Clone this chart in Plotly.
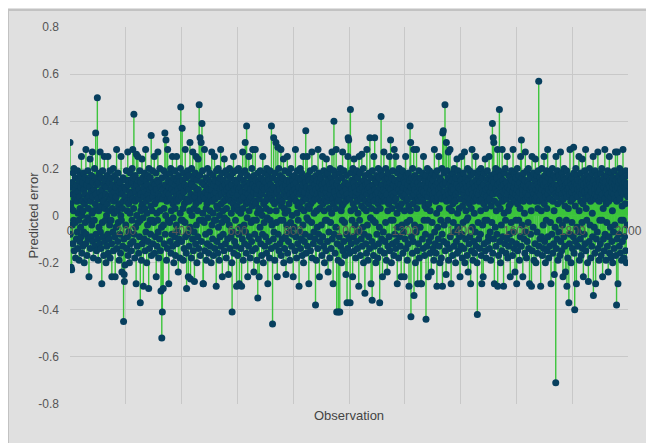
import plotly.graph_objects as go

# Predicted error per observation, in hundredths (read/estimated from the chart)
err_0000 = [31, -8, 12, 5, -22, 3, -23, 14, -4, 9, -12, 18, 2, -2, 20, -15, 7, 11, -3, 16,
            -18, 7, 9, -10, 13, 6, -7, 19, -14, 1, 10, -2, 15, -19, 8, -11, 3, 17, -5, 12,
            -9, 25, 0, -16, 6, 14, -13, 2, 18, -7, 11, -20, 5, 9, -3, 16, -12, 28, -8, 7,
            13, -17, 7, -1, 19, -10, 3, 15, -26, 8, -2, 12, 24, -14, 6, 10, -9, 17, -4, 1,
            27, -11, 8, 14, -18, 2, 11, -2, 20, -13, 5, 16, 35, -8, 9, -15, 13, 3, 50, -10]
err_0100 = [7, -19, 14, 2, -5, 18, -12, 10, 27, -7, 4, -14, 16, 8, -29, 11, -3, 19, -9, 6,
            13, -17, 6, 25, -11, 3, 15, -2, 9, -20, 12, 0, -13, 17, 5, -8, 25, -16, 8, 2,
            -10, 14, -4, 19, -18, 7, 11, -2, 16, -12, -26, 9, 3, 13, -7, 20, -15, 6, 1, 10,
            -9, 17, -26, 7, 12, -5, 8, 28, -14, 15, 2, -11, 18, -3, 4, 13, -19, 10, -8, 5,
            14, -16, 0, 25, -2, 11, -24, 9, 3, -13, 16, 6, -45, -10, -25, -28, 12, -21, 8, 15]
err_0200 = [-4, 11, 19, -14, 6, 2, -9, 27, -17, 13, 5, -7, 15, -20, 10, 1, 18, -12, 7, 9,
            -15, 14, -2, 20, 7, 28, -11, 16, 3, 43, -8, 12, -18, 6, 17, -5, 10, -29, 26, 0,
            13, -13, 8, 25, -3, 15, -16, 7, 11, -9, 19, -2, -37, 9, 2, 14, -19, 4, 24, -12,
            5, 16, -1, -30, 12, 8, -10, 18, 3, -15, 10, 28, -7, 6, 15, -20, 1, 13, -4, 17,
            -11, 9, -31, 20, 7, -14, 11, -2, 16, -8, 4, 34, -17, 12, 2, -2, 19, -12, 8, 14]
err_0300 = [-3, 10, 25, -16, 5, 13, -9, 6, 18, -26, 11, 1, -13, 15, -2, 27, -7, 9, -18, 7,
            14, -10, 20, 2, -15, 8, -32, 12, -5, -52, 16, -41, 7, 11, -31, -4, 19, 3, -12, 9,
            35, -8, 13, 0, 32, 17, -19, 6, 10, -14, 28, 7, -2, 15, -29, 9, 12, -3, 18, -11,
            7, 20, -16, 2, 14, -8, 11, 25, -13, 5, -1, 16, -20, 10, 6, -9, 19, 3, -17, 13,
            8, -4, 25, -12, 6, 15, -7, 11, -24, 17, 7, -10, 14, 9, -18, 1, 20, 46, -2, 12]
err_0400 = [-11, 8, 37, -2, 15, 3, -19, 18, 10, -14, 5, 13, -3, 28, -9, 7, 16, -16, -31, 6,
            12, -8, 19, 7, -26, 11, 6, -13, 17, 2, 31, -5, -27, 9, 14, -18, 20, 0, 13, -10,
            27, 7, -15, 16, 3, -7, -28, 12, 8, 18, -12, 5, 25, -4, 10, -20, 15, 2, -9, 24,
            11, -14, 6, 47, -2, 17, 33, -17, 9, 7, 31, -11, 14, 39, -2, 19, 1, -29, -29, 8,
            13, -3, 28, -15, 7, 10, -8, 16, 3, -19, 12, 5, -12, 20, -1, 9, 15, -16, 6, 11]
err_0500 = [-7, 18, 2, -13, 14, 8, -20, 11, 27, -4, 6, -10, 17, 1, -17, 13, 9, -2, 25, -14,
            7, 15, -2, 10, -30, 19, 4, -11, 12, 3, -16, 20, -5, 8, 14, -19, 0, 16, -9, 11,
            28, -13, 5, 9, -3, 18, -26, 12, 2, -8, 15, 6, -15, 24, -1, 10, 13, -12, 7, 19,
            -18, 3, 11, -2, 17, -10, 8, 14, -25, 7, 12, -4, 20, -14, 9, 6, 16, -9, 1, 13,
            -20, -41, 10, 18, -7, 5, 25, -16, 3, 11, -11, 15, 7, -2, 19, -13, 8, -30, 12, 4]
err_0600 = [14, -17, 9, 2, 20, -8, 11, -29, 6, 16, -5, 12, 1, -14, 18, -30, 7, 10, -10, 27,
            3, -19, 15, 8, -4, 13, -12, 19, 31, -7, 10, 5, -16, 38, 12, -1, 17, -26, 6, 9,
            -13, 25, 2, -9, 14, 7, -18, 11, 16, -3, 8, -11, 20, 4, -15, 28, 13, -2, 10, -24,
            17, 6, -8, 12, 28, -14, 5, 15, -2, 9, -19, 11, 1, -35, 18, -10, 3, 14, -26, 7,
            13, -5, 19, 2, -12, 16, 9, -17, 10, 0, -8, 25, 12, -20, 5, 15, -3, 11, -13, 18]
err_0700 = [6, -9, 14, 3, -16, 20, 8, -1, 12, -29, 17, 7, -11, 10, 15, -18, 2, 19, -2, 9,
            13, -14, 38, 7, -4, 11, -46, 16, 6, -10, 33, -7, 12, 5, -19, 18, 9, -13, 31, 2,
            -3, 15, 10, -26, 6, 29, -8, 13, 20, -15, 7, 11, -12, 17, 8, -2, 28, -17, 4, 14,
            -10, 6, 16, -2, 12, 24, -20, 9, 3, -14, 19, 1, -9, 13, -25, 10, 15, -4, 8, 25,
            -16, 2, 11, -11, 18, 5, -7, 14, -19, 9, 12, -3, 20, 7, -13, 16, 0, -8, 10, 15]
err_0800 = [-26, 8, 13, -5, 17, 7, -15, 11, 28, -9, 6, 14, -18, 1, 10, 19, -12, 4, -2, 16,
            12, -30, 5, 9, -7, 20, -14, 15, 3, -10, 18, 11, -17, 6, 13, -4, 25, -20, 8, 2,
            -11, 16, 10, -8, 14, 36, -16, 7, 12, -1, 25, -13, 4, 17, -2, 9, -29, 15, 3, 11,
            -9, 19, -15, 5, 12, 8, -3, 27, -18, 14, 6, 10, -12, 16, -7, 1, 20, -10, 13, 7,
            -38, 11, 17, -19, 2, 15, -5, 9, -14, 28, 7, -8, 12, 18, -26, 3, 14, -11, 10, 6]
err_0900 = [16, -4, 9, -17, 13, 25, -9, 5, 11, -13, 19, 2, -20, 14, 7, -2, 17, -15, 10, 24,
            -2, 12, 6, -11, 18, -24, 8, 15, -7, 3, 13, -18, 20, 9, -3, 11, -14, 16, 1, 27,
            -10, 7, 14, -29, 5, 19, 40, -8, 12, 10, -16, 17, 3, -5, 28, 8, -41, 13, -12, 6,
            15, -19, -41, 11, 7, -9, 18, -41, 9, 20, -13, 12, 2, -20, 16, 4, -2, 27, -15, 10,
            5, -11, 19, 13, -3, 8, -17, 14, 6, -25, 11, 17, -8, -37, 9, -14, 25, 33, 7, 32]
err_1000 = [-10, 13, -16, 7, -37, 45, 18, 2, -12, 11, 15, -2, 9, -26, 20, 5, -9, 14, 24, -15,
            3, 12, -4, 17, -18, 8, 10, -11, 19, 6, -14, 16, 1, -7, 13, -30, 25, 9, -2, 11,
            18, -17, 7, 14, -10, 4, 26, -13, 12, -5, 8, 20, -20, 3, 15, -8, 10, -33, 17, 6,
            -12, 13, 2, -16, 28, 9, -4, 14, -19, 11, 5, -9, 18, 12, -14, 33, 7, -1, 16, -29,
            10, 3, -11, -36, 19, 8, -2, 13, -17, 25, 6, -13, 33, 11, -3, 15, -20, 9, 2, 17]
err_1100 = [-8, 14, 10, -18, 5, 20, -12, 7, 16, -5, -37, 12, 3, -15, 19, 42, 9, -10, 13, 6,
            -26, 17, 8, -7, 11, 27, -16, 7, 15, -11, 10, -3, 20, 6, -19, 13, 9, -24, 16, 2,
            -13, 18, 5, -9, 12, 25, -15, 7, 14, 32, -2, 11, -20, 16, 3, 9, -12, 19, -2, 13,
            8, -17, 28, 6, -8, 15, 10, -14, 25, 7, -11, 12, 1, -29, 18, 4, -5, 14, -18, 11,
            20, -9, 3, 16, -13, 9, 13, -26, 5, 17, -4, 10, 19, -16, 8, 12, -7, 15, -26, 2]
err_1200 = [14, -10, 9, 25, -14, 6, 17, -3, 11, -19, 7, 13, -12, 18, 4, -30, 10, 15, -2, 38,
            2, 31, -43, 12, -9, 16, 8, -16, 20, 5, -11, 13, 28, -34, 9, -4, 17, 11, -20, 6,
            15, -7, 28, 3, -15, 10, -29, 14, 7, -12, 19, 6, -18, 12, 9, -5, 16, -29, 8, 13,
            -29, 11, 7, -10, 18, 6, -14, 25, 10, -2, 13, -17, 4, 15, -8, 9, -44, 17, 3, -13,
            12, 20, -2, 8, -26, 14, 5, -11, 19, 10, -16, 2, 16, -9, 11, -24, 13, 7, -3, 18]
err_1300 = [9, -14, 15, 7, -19, 12, 28, -7, 10, -12, 17, 6, -16, 13, 1, -30, 19, 8, -5, 14,
            -10, 11, 25, -13, 3, 16, -20, 9, 12, -2, 15, -18, 7, 20, -8, -30, 35, 13, 36, -11,
            18, -4, 10, 7, 47, -15, 14, 8, -25, 31, 6, -12, 19, 11, -2, 16, 27, -19, 9, 3,
            -14, 13, 28, -9, 7, 17, -29, 10, 2, 15, 12, -17, 5, 18, -3, 11, -13, 20, 8, -7,
            14, 6, -20, 16, 9, -11, 13, 24, -16, 1, -5, 19, 10, -15, 12, 3, -9, 17, -26, 11]
err_1400 = [7, -13, 15, 25, -8, 10, -18, 4, 13, -3, 18, 9, -14, 11, 27, -20, 6, 14, -10, 2,
            16, -2, 12, -17, 8, 20, -1, -24, 15, 10, -12, 5, 19, -9, 13, 7, -29, 17, 3, -15,
            11, 28, -5, 9, -19, 14, 6, -11, 18, 1, -16, 12, 8, -7, 25, 15, -13, 10, 7, -20,
            -42, 13, 17, -3, 9, -10, 19, 6, -14, 11, 14, -8, 2, 20, -17, 12, -29, 7, 16, -4,
            10, -26, 13, 5, -12, 18, 9, -2, 24, -15, 3, 11, -18, 15, 8, -2, 19, -11, 12, 6]
err_1500 = [-9, 16, 25, -14, 7, 13, -7, 10, -19, 17, 4, 12, -3, 15, 39, -16, 9, 33, -10, 31,
            14, -29, 6, 18, -5, 11, 20, -13, 2, 16, -8, 10, 28, -30, 13, 5, -17, 19, 9, 45,
            -11, 14, 3, -20, 17, 8, -4, 12, -15, 28, 6, -9, 15, 10, -30, 13, 1, 18, -12, 7,
            20, -2, 11, -16, 14, 7, -10, 25, 9, -18, 12, 2, -13, 17, 4, -8, 16, 11, -26, 5,
            13, -3, 19, -11, 8, 15, -17, 10, 28, -7, 7, 12, -14, 18, 6, -24, 14, 9, -2, 16]
err_1600 = [-12, -29, 11, 20, 5, -15, 13, 8, -2, 17, 10, -19, 14, 3, -9, 25, 7, -13, 32, 12,
            -4, 16, 9, -26, 11, 6, 18, -10, 13, 1, -16, 15, 27, -7, 10, 7, -18, 12, 19, -11,
            8, 14, -3, 20, -14, 9, 13, -29, 6, 17, 11, -8, 16, 2, -30, 12, 25, -15, 7, 10,
            -5, 18, 13, -19, 9, 7, 15, -12, 24, 6, -20, 11, 8, 17, -7, 13, -16, 3, 19, 10,
            57, -13, 12, 6, -10, 16, 9, -30, 14, 2, -9, 20, 11, -17, 15, 7, -4, 13, -14, 25]
err_1700 = [5, -11, 17, 10, -20, 14, 8, -2, 19, 3, -15, 12, 28, -9, 9, 16, -18, 11, 7, -13,
            18, 7, -3, 14, -29, 10, 15, -8, 12, 20, -16, 6, 11, -12, 17, 2, -25, 13, 9, -5,
            16, -71, 25, -14, 8, 12, -10, 19, 5, -19, 13, 10, -7, 17, -2, 11, -17, 15, 27, -11,
            6, 14, -15, 9, 18, -4, 12, -26, 7, 16, -9, 20, 11, -13, 4, 15, -24, 10, 13, -2,
            19, -30, 8, 14, -18, 11, 3, 17, -37, 12, -12, 9, 28, -8, 15, 6, -20, 13, 10, -3]
err_1800 = [16, -14, 7, 12, -9, 29, 18, -16, 11, -40, 14, 4, -11, 20, 9, -29, 13, -5, 17, 8,
            -13, 11, 15, -7, 25, 2, -19, 12, 10, -10, 18, 6, -17, 14, 9, -3, 24, -14, 11, 5,
            -26, 13, 16, -8, 10, 19, -12, 7, 28, -15, 3, 14, -2, 12, 17, -20, 9, 11, -28, 15,
            8, -11, 20, 13, -4, 16, 6, -18, 12, 10, -13, 18, 1, -9, 14, 25, -34, 7, 15, -5,
            11, -16, 19, 9, -29, 13, 7, -10, 17, 8, -7, 12, 27, -14, 10, 15, -19, 6, 14, -2]
err_1900 = [11, -12, 18, 8, -17, 13, 20, -2, 9, -26, 15, 3, -10, 16, 12, -15, 7, 28, -8, 14,
            10, -19, 5, 17, -3, 11, -13, 19, 9, -24, 13, 6, -9, 25, -16, 12, 15, -5, 8, -18,
            18, 10, -11, 14, 2, -20, 16, 12, -7, 9, -14, 19, 7, -4, 13, 27, -17, 11, 15, -38,
            6, -10, 27, 12, -29, 9, 17, -8, 14, -13, 20, 7, -16, 11, 15, -2, 18, -19, 10, 4,
            -11, 13, 28, -2, 9, 16, -18, 12, -9, 14, 5, -15, 19, 11, -20, 10, 13, -4, 17, 8]

blocks = [err_0000, err_0100, err_0200, err_0300, err_0400, err_0500, err_0600,
          err_0700, err_0800, err_0900, err_1000, err_1100, err_1200, err_1300,
          err_1400, err_1500, err_1600, err_1700, err_1800, err_1900]
pred_error = [v / 100.0 for b in blocks for v in b]
observation = list(range(len(pred_error)))

x_ticks = [0, 200, 400, 600, 800, 1000, 1200, 1400, 1600, 1800, 2000]
y_ticks = [-0.8, -0.6, -0.4, -0.2, 0, 0.2, 0.4, 0.6, 0.8]
y_labels = ["-0.8", "-0.6", "-0.4", "-0.2", "0", "0.2", "0.4", "0.6", "0.8"]

# stems from 0 to each value
stem_x, stem_y = [], []
for xi, yi in zip(observation, pred_error):
    stem_x += [xi, xi, None]
    stem_y += [0, yi, None]

fig = go.Figure()
fig.add_trace(go.Scatter(x=stem_x, y=stem_y, mode="lines",
                         line=dict(color="#3cc43c", width=1.4),
                         hoverinfo="skip", showlegend=False))
fig.add_trace(go.Scatter(x=observation, y=pred_error, mode="markers",
                         marker=dict(color="#073f5e", size=7, line=dict(width=0)),
                         showlegend=False))

font = "Liberation Sans, Arial, sans-serif"
# the page body has an 8 px margin; figure coordinates below are relative to it
W, H = 646, 435
L, T = 62, 17
pw, ph = 558, 379
R, B = W - L - pw, H - T - ph

def px_x(p):
    return (p - L) / pw

def px_y(p):
    return (H - B - p) / ph

fig.update_layout(
    width=W, height=H,
    margin=dict(l=L, r=R, t=T, b=B, pad=0),
    paper_bgcolor="#e0e0e0",
    plot_bgcolor="rgba(0,0,0,0)",
    font=dict(family=font, size=12, color="#555555"),
    showlegend=False,
    shapes=[dict(type="rect", xref="paper", yref="paper", layer="below",
                 x0=px_x(0), x1=px_x(W + 5), y0=px_y(H + 5), y1=px_y(0),
                 fillcolor="rgba(0,0,0,0)", line=dict(color="#c2c2c2", width=2))],
    annotations=[
        dict(text="Observation", xref="paper", yref="paper", x=0.5, y=px_y(408),
             xanchor="center", yanchor="middle", showarrow=False,
             font=dict(family=font, size=13, color="#444444")),
        dict(text="Predicted error", xref="paper", yref="paper", x=px_x(25), y=0.5,
             xanchor="center", yanchor="middle", textangle=-90, showarrow=False,
             font=dict(family=font, size=13, color="#444444")),
    ],
)
fig.update_xaxes(range=[0, 2000], tickmode="array", tickvals=x_ticks,
                 ticktext=[str(t) for t in x_ticks],
                 anchor="free", position=0.5,
                 showgrid=True, gridcolor="#c8c8c8", gridwidth=1,
                 zeroline=False, showline=False, ticks="",
                 ticklabelstandoff=6,
                 tickfont=dict(family=font, size=12, color="#555555"))
fig.update_yaxes(range=[-0.8, 0.8], tickmode="array", tickvals=y_ticks,
                 ticktext=y_labels,
                 showgrid=True, gridcolor="#c8c8c8", gridwidth=1,
                 zeroline=False, showline=False, ticks="",
                 ticklabelstandoff=10,
                 tickfont=dict(family=font, size=12, color="#555555"))

fig.write_html("out.html")
